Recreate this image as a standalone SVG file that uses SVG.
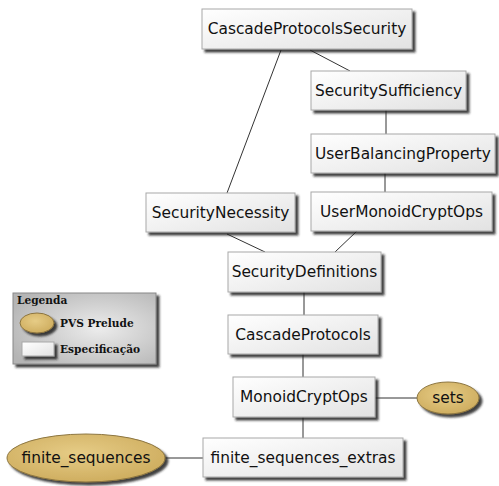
<svg xmlns="http://www.w3.org/2000/svg" width="499" height="486" viewBox="0 0 499 486">
<defs>
<linearGradient id="boxg" x1="0" y1="0" x2="1" y2="1">
<stop offset="0" stop-color="#ffffff"/>
<stop offset="1" stop-color="#e2e2e2"/>
</linearGradient>
<radialGradient id="ellg" cx="0.45" cy="0.4" r="0.6">
<stop offset="0" stop-color="#e6cc86"/>
<stop offset="1" stop-color="#cfae60"/>
</radialGradient>
<radialGradient id="legg" cx="0.6" cy="0.5" r="0.7">
<stop offset="0" stop-color="#ececec"/>
<stop offset="1" stop-color="#b4b4b4"/>
</radialGradient>
<filter id="sh" x="-10%" y="-20%" width="130%" height="160%">
<feDropShadow dx="3" dy="3" stdDeviation="1.3" flood-color="#222" flood-opacity="0.85"/>
</filter>
</defs>
<style>
.box{fill:url(#boxg);stroke:#a8a8a8;stroke-width:1;filter:url(#sh)}
.ell{fill:url(#ellg);stroke:#8c7540;stroke-width:1;filter:url(#sh)}
.lbl{font-family:"DejaVu Sans",Verdana,sans-serif;font-size:15.4px;fill:#111;text-anchor:middle;dominant-baseline:central}
.edge{stroke:#333;stroke-width:1;fill:none}
.leg{font-family:"DejaVu Serif","Liberation Serif",serif;font-weight:bold;font-size:10.6px;fill:#111}
</style>
<rect width="499" height="486" fill="#ffffff"/>
<g id="connectors">
<line class="edge" x1="281" y1="50" x2="227" y2="193"/>
<line class="edge" x1="310" y1="50" x2="350" y2="71"/>
<line class="edge" x1="386" y1="110" x2="386" y2="134"/>
<line class="edge" x1="385" y1="173" x2="385" y2="192"/>
<line class="edge" x1="227" y1="234" x2="265" y2="252"/>
<line class="edge" x1="357" y1="231" x2="335" y2="252"/>
<line class="edge" x1="304" y1="292" x2="304" y2="315"/>
<line class="edge" x1="303" y1="354" x2="303" y2="377"/>
<line class="edge" x1="375" y1="398" x2="417" y2="398"/>
<line class="edge" x1="303" y1="417" x2="303" y2="438"/>
<line class="edge" x1="165" y1="458" x2="203" y2="458"/>
</g>
<g id="CascadeProtocolsSecurity"><rect class="box" x="202" y="9" width="210" height="40"/><text class="lbl" x="307" y="29">CascadeProtocolsSecurity</text></g>
<g id="SecuritySufficiency"><rect class="box" x="311" y="71" width="155" height="39"/><text class="lbl" x="388.5" y="90.5">SecuritySufficiency</text></g>
<g id="UserBalancingProperty"><rect class="box" x="311" y="134" width="184" height="39"/><text class="lbl" x="403" y="153.5">UserBalancingProperty</text></g>
<g id="SecurityNecessity"><rect class="box" x="146" y="193" width="149" height="39"/><text class="lbl" x="220.5" y="212.5">SecurityNecessity</text></g>
<g id="UserMonoidCryptOps"><rect class="box" x="311" y="192" width="181" height="39"/><text class="lbl" x="401.5" y="211.5">UserMonoidCryptOps</text></g>
<g id="SecurityDefinitions"><rect class="box" x="228" y="252" width="153" height="40"/><text class="lbl" x="304.5" y="272">SecurityDefinitions</text></g>
<g id="CascadeProtocols"><rect class="box" x="228" y="315" width="150" height="39"/><text class="lbl" x="303" y="334.5">CascadeProtocols</text></g>
<g id="MonoidCryptOps"><rect class="box" x="233" y="377" width="142" height="40"/><text class="lbl" x="304" y="397">MonoidCryptOps</text></g>
<g id="finite_sequences_extras"><rect class="box" x="203" y="438" width="200" height="39"/><text class="lbl" x="303" y="457.5">finite_sequences_extras</text></g>
<g id="sets"><ellipse class="ell" cx="448" cy="398" rx="31" ry="16"/><text class="lbl" x="448" y="398">sets</text></g>
<g id="finite_sequences"><ellipse class="ell" cx="86" cy="458" rx="79" ry="24"/><text class="lbl" x="86" y="458">finite_sequences</text></g>
<g id="legend">
<rect x="13" y="293" width="143" height="71" fill="url(#legg)" stroke="#888" stroke-width="1" filter="url(#sh)"/>
<text class="leg" x="17" y="304">Legenda</text>
<ellipse cx="37" cy="323" rx="17" ry="10" fill="url(#ellg)" stroke="#8c7540" stroke-width="1" filter="url(#sh)"/>
<text class="leg" x="60" y="327">PVS Prelude</text>
<rect x="22" y="342" width="32" height="14" fill="url(#boxg)" stroke="#a8a8a8" stroke-width="1" filter="url(#sh)"/>
<text class="leg" x="60" y="353">Especificação</text>
</g>
</svg>
